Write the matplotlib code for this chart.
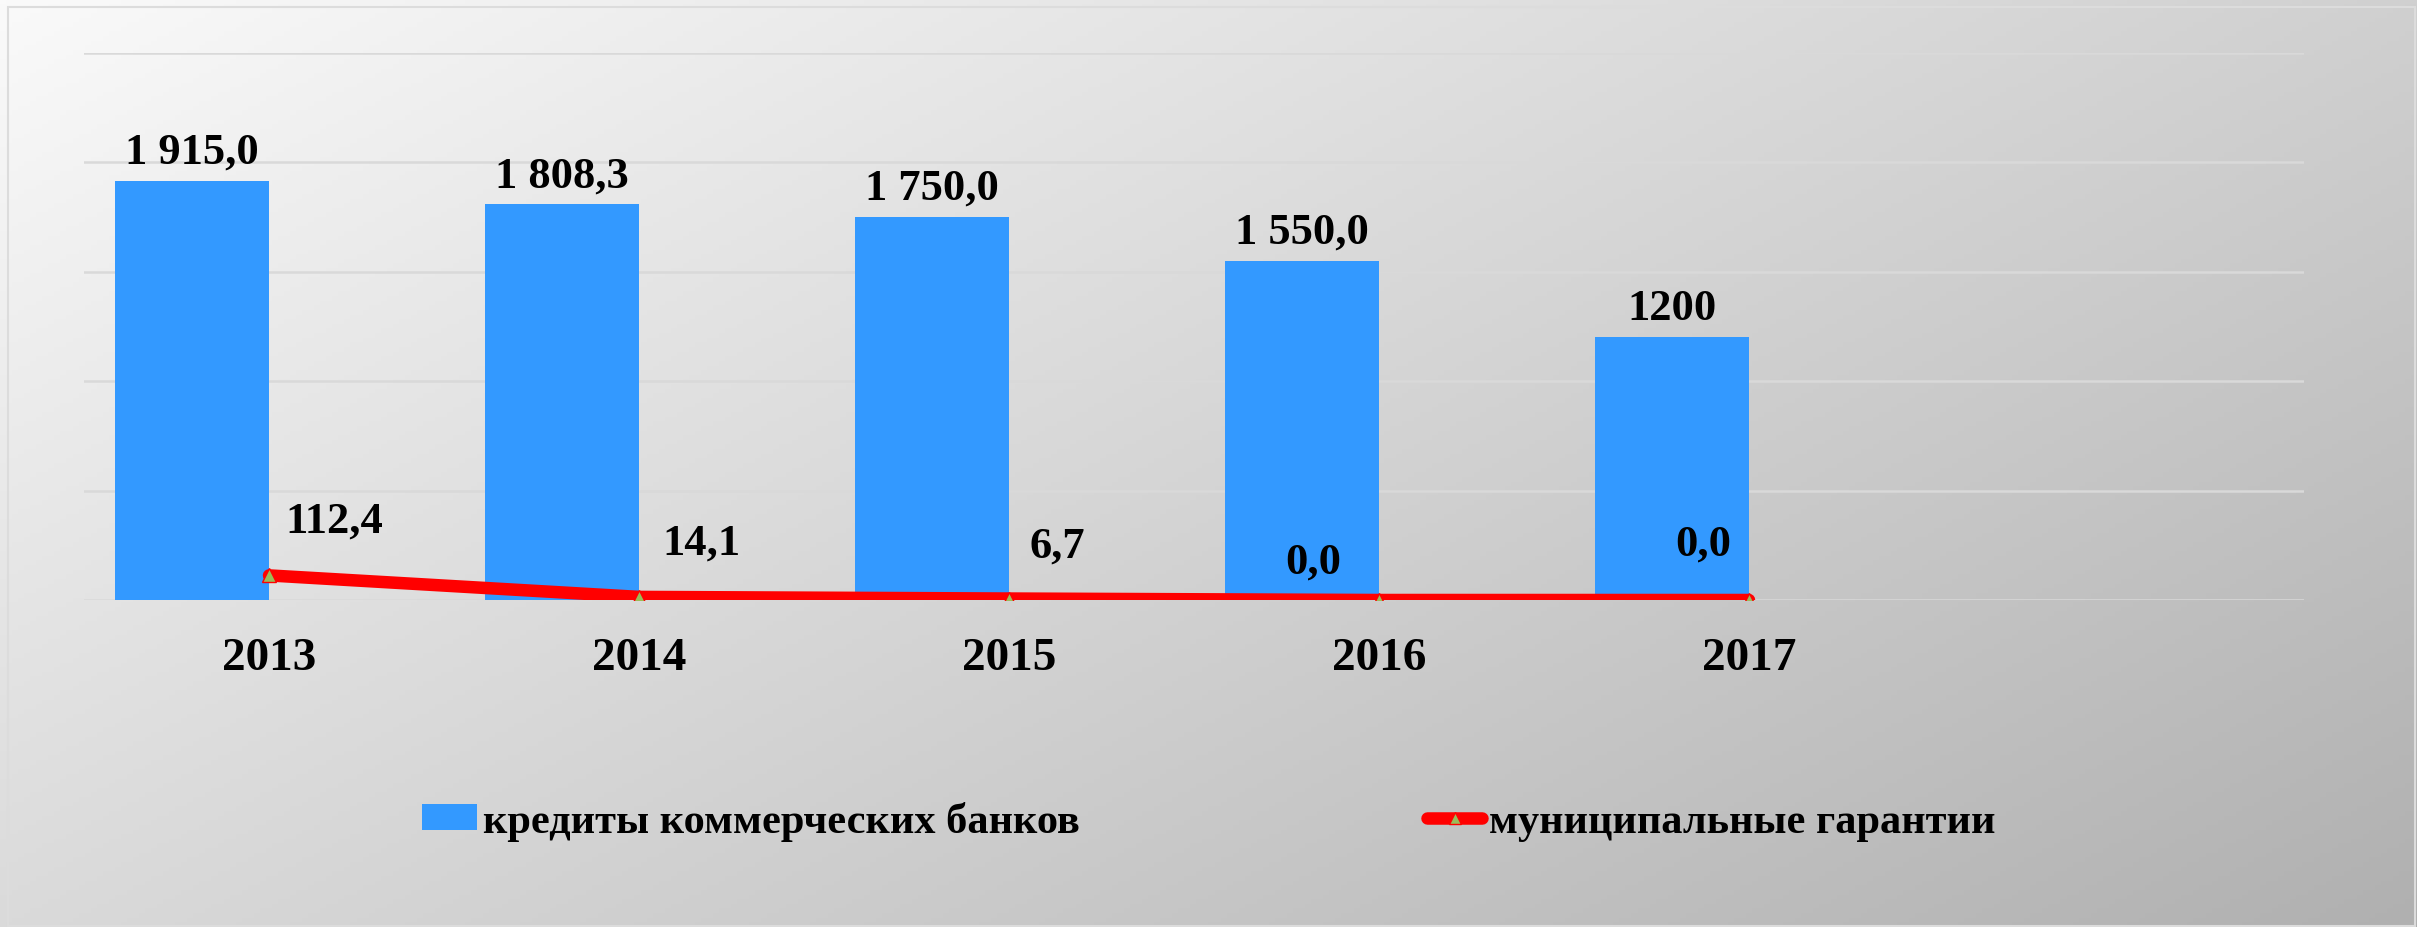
import numpy as np
import matplotlib
matplotlib.use("Agg")
import matplotlib.pyplot as plt
from matplotlib.lines import Line2D
from matplotlib.patches import Patch, Rectangle

# ---- data ----
categories = ["2013", "2014", "2015", "2016", "2017", ""]
credits = [1915.0, 1808.3, 1750.0, 1550.0, 1200.0]
credit_labels = ["1 915,0", "1 808,3", "1 750,0", "1 550,0", "1200"]
guarantees = [112.4, 14.1, 6.7, 0.0, 0.0]
guarantee_labels = ["112,4", "14,1", "6,7", "0,0", "0,0"]
series_names = ["кредиты коммерческих банков", "муниципальные гарантии"]

# ---- style ----
W, H, DPI = 2417, 928, 100
FONT = "Liberation Serif"
BAR_C = "#3399FF"
LINE_C = "#FF0000"
MARK_C = "#9BBB59"
GRID_C = "#D9D9D9"

fig = plt.figure(figsize=(W / DPI, H / DPI), dpi=DPI)

# gradient background
bg = fig.add_axes([0, 0, 1, 1], zorder=-10)
xx, yy = np.meshgrid(np.linspace(0, 1, 400), np.linspace(0, 1, 200))
val = (250 - 42 * xx - 32 * yy) / 255.0
bg.imshow(np.dstack([val, val, val]), aspect="auto", extent=[0, 1, 0, 1], origin="upper")
bg.set_xlim(0, 1); bg.set_ylim(0, 1)
bg.axis("off")
bg.add_patch(Rectangle((8 / W, 1 / H), (W - 10) / W, (H - 9) / H, fill=False,
                       edgecolor="#DCDCDC", lw=1.5, transform=bg.transAxes))

ax = fig.add_axes([84 / W, 1 - 601 / H, (2304 - 84) / W, (601 - 54) / H])
ax.set_facecolor("none")
x = np.arange(len(categories))
ax.set_xlim(-0.5, len(categories) - 0.5)
ax.set_ylim(0, 2500)
ax.set_yticks(np.arange(0, 2501, 500))
ax.yaxis.grid(True, color=GRID_C, lw=1.8)
ax.set_axisbelow(True)
for s in ax.spines.values():
    s.set_visible(False)
ax.tick_params(axis="y", left=False, labelleft=False)
ax.tick_params(axis="x", length=0, pad=27)
ax.set_xticks(x)
ax.set_xticklabels(categories, fontfamily=FONT, fontweight="bold", fontsize=34)

bw = 0.416
xb = x[:len(credits)] - bw / 2
bars = ax.bar(xb, credits, width=bw, color=BAR_C, zorder=2)
for xi, v, lab in zip(xb, credits, credit_labels):
    ax.annotate(lab, (xi, v), xytext=(0, 13), textcoords="offset points",
                ha="center", va="baseline", fontfamily=FONT, fontweight="bold",
                fontsize=32, color="black")

xl = x[:len(guarantees)]
ax.plot(xl, guarantees, color=LINE_C, lw=9, solid_capstyle="round", zorder=3,
        marker="^", markersize=10, markerfacecolor=MARK_C, markeredgecolor=LINE_C,
        markeredgewidth=1.0)

label_offsets = [(11.5, 31.5, "left"), (17, 31, "left"), (15, 30, "left"),
                 (-27, 20, "right"), (-13, 33, "right")]
for xi, v, lab, (dx, dy, ha) in zip(xl, guarantees, guarantee_labels, label_offsets):
    ax.annotate(lab, (xi, v), xytext=(dx, dy), textcoords="offset points",
                ha=ha, va="baseline", fontfamily=FONT, fontweight="bold",
                fontsize=32, color="black", zorder=4)

handles = [Patch(facecolor=BAR_C, edgecolor="none"),
           Line2D([0], [0], color=LINE_C, lw=9, solid_capstyle="round",
                  marker="^", markersize=9, markerfacecolor=MARK_C,
                  markeredgecolor=LINE_C, markeredgewidth=1.0)]
leg = fig.legend(handles, series_names, loc="center", ncol=2,
                 bbox_to_anchor=(0.5, 1 - 822 / H), frameon=False,
                 prop={"family": FONT, "weight": "bold", "size": 30.5},
                 handlelength=1.3, handleheight=0.55, handletextpad=0.15,
                 columnspacing=8.2)

fig.savefig("out.png", dpi=DPI)
